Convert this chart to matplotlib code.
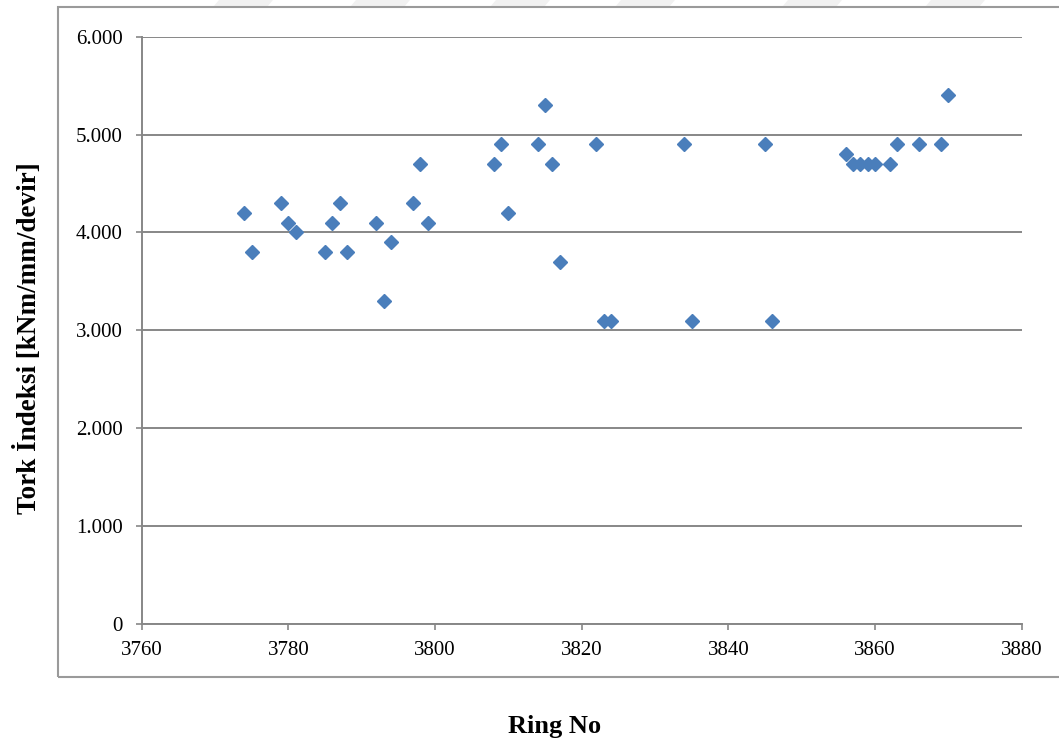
import matplotlib
matplotlib.use("Agg")
import matplotlib.pyplot as plt
from matplotlib.patches import Rectangle, Polygon
from matplotlib.ticker import FixedLocator, FixedFormatter

# Ring numbers and torque index values
ring_no = [3774, 3775, 3779, 3780, 3781, 3785, 3786, 3787, 3788, 3792,
           3793, 3794, 3797, 3798, 3799, 3808, 3809, 3810, 3814, 3815,
           3816, 3817, 3822, 3823, 3824, 3834, 3835, 3845, 3846, 3856,
           3857, 3858, 3859, 3860, 3862, 3863, 3866, 3869, 3870]
tork_index = [4.2, 3.8, 4.3, 4.1, 4.0, 3.8, 4.1, 4.3, 3.8, 4.1,
              3.3, 3.9, 4.3, 4.7, 4.1, 4.7, 4.9, 4.2, 4.9, 5.3,
              4.7, 3.7, 4.9, 3.1, 3.1, 4.9, 3.1, 4.9, 3.1, 4.8,
              4.7, 4.7, 4.7, 4.7, 4.7, 4.9, 4.9, 4.9, 5.4]

x_ticks = [3760, 3780, 3800, 3820, 3840, 3860, 3880]
y_ticks = [0, 1, 2, 3, 4, 5, 6]
y_tick_labels = ["0", "1.000", "2.000", "3.000", "4.000", "5.000", "6.000"]

W, H = 1059, 745
fig = plt.figure(figsize=(W / 100, H / 100), dpi=100)
fig.patch.set_facecolor("white")

# faint background strokes along the top edge
for x0 in [213, 350, 490, 615, 782, 925]:
    poly = Polygon([((x0 + 6) / W, 1.0), ((x0 + 60) / W, 1.0),
                    ((x0 + 54) / W, 1 - 7 / H), (x0 / W, 1 - 7 / H)],
                   closed=True, transform=fig.transFigure,
                   facecolor="#f1f1f1", edgecolor="none", zorder=0)
    fig.patches.append(poly)

# chart area border
frame = Rectangle((58 / W, 1 - 677 / H), (1080 - 58) / W, (677 - 7) / H,
                  transform=fig.transFigure, fill=False,
                  edgecolor="#9a9a9a", linewidth=1.5, zorder=1)
fig.patches.append(frame)

ax = fig.add_axes([141.7 / W, 1 - 624 / H, 880 / W, (624 - 36.7) / H])
ax.set_facecolor("none")

grey = "#878787"
ax.set_xlim(3760, 3880)
ax.set_ylim(0, 6)
ax.xaxis.set_major_locator(FixedLocator(x_ticks))
ax.yaxis.set_major_locator(FixedLocator(y_ticks))
ax.yaxis.set_major_formatter(FixedFormatter(y_tick_labels))

ax.yaxis.grid(True, color=grey, linewidth=1.4, zorder=1)
ax.set_axisbelow(True)
for side in ["top", "right"]:
    ax.spines[side].set_visible(False)
for side in ["left", "bottom"]:
    ax.spines[side].set_color(grey)
    ax.spines[side].set_linewidth(1.4)

serif = "Liberation Serif"
ax.tick_params(axis="both", direction="out", length=4.5, width=1.2,
               color=grey, labelsize=15, labelcolor="black")
ax.tick_params(axis="y", pad=9)
ax.tick_params(axis="x", pad=8)
for lbl in ax.get_xticklabels() + ax.get_yticklabels():
    lbl.set_fontfamily(serif)

ax.plot(ring_no, tork_index, linestyle="none", marker="D", markersize=7,
        color="#4A7EBB", markeredgecolor="#4A7EBB", zorder=3, clip_on=False)

fig.text(28 / W, 1 - 338 / H, "Tork İndeksi [kNm/mm/devir]", rotation=90,
         ha="center", va="center", fontsize=19.5, fontweight="bold",
         fontfamily=serif)
fig.text(555 / W, 1 - 726 / H, "Ring No", ha="center", va="center",
         fontsize=19, fontweight="bold", fontfamily=serif)

fig.savefig("out.png", dpi=100, facecolor="white")
